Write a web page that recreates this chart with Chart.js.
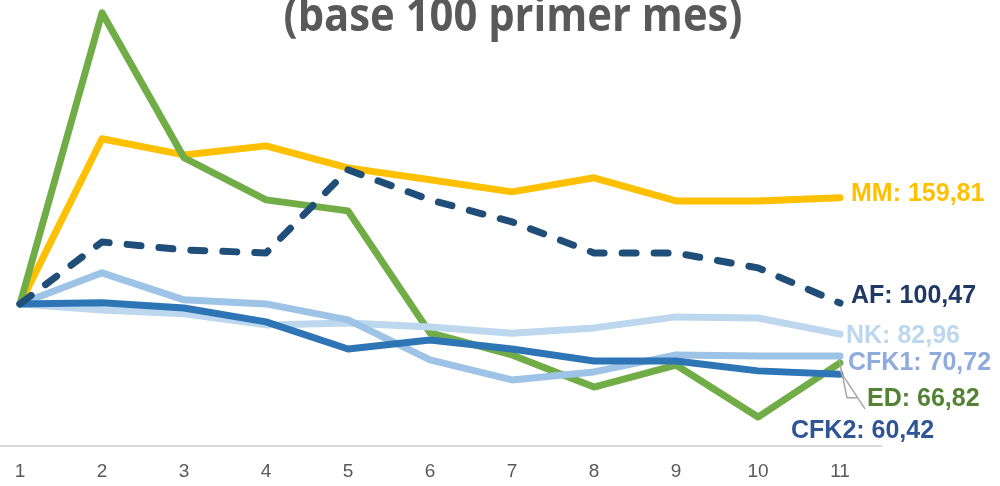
<!DOCTYPE html>
<html>
<head>
<meta charset="utf-8">
<script src="https://cdn.jsdelivr.net/npm/chart.js@4.4.1/dist/chart.umd.min.js"></script>
<style>
  html, body { margin: 0; padding: 0; background: #ffffff; overflow: hidden; width: 1000px; height: 486px; }
  #c { position: absolute; left: -21px; top: 0; }
</style>
</head>
<body>
<canvas id="c" width="1021" height="486"></canvas>
<script>
const categories = ['1', '2', '3', '4', '5', '6', '7', '8', '9', '10', '11'];
const seriesNames = ['MM', 'AF', 'NK', 'CFK1', 'ED', 'CFK2'];
const mm   = [100, 193.0, 183.9, 189.0, 176.6, 169.9, 163.1, 171.0, 158.0, 158.0, 159.81];
const af   = [100, 134.9, 130.4, 128.7, 175.5, 158.6, 146.2, 128.7, 128.7, 120.3, 100.47];
const nk   = [100, 96.6, 94.4, 88.2, 89.3, 87.0, 83.5, 86.5, 92.7, 92.1, 82.96];
const cfk1 = [100, 117.5, 102.3, 100.0, 91.0, 68.5, 57.2, 61.7, 71.3, 70.7, 70.72];
const ed   = [100, 263.9, 182.3, 158.6, 152.4, 83.7, 71.3, 53.2, 65.6, 36.3, 66.82];
const cfk2 = [100, 100.6, 97.7, 89.9, 74.6, 79.7, 74.6, 67.9, 67.9, 62.3, 60.42];
const titleText = '(base 100 primer mes)';

const lineColors  = ['#FFC000', '#1F4E79', '#BDD7EE', '#9DC3E6', '#70AD47', '#2E75B6'];
const labelColors = ['#FFC000', '#1F3864', '#BDD7EE', '#8FAADC', '#548235', '#2F5597'];
const drawOrder   = [5, 0, 3, 2, 4, 1];
// label offsets relative to the last point of each series
const labelDx = [11, 11, 6, 8, 27, -49];
const labelDy = [-4, -7, 2, 7, 36, 57];

const allData = [mm, af, nk, cfk1, ed, cfk2];

const datasets = allData.map((d, i) => ({
  label: seriesNames[i],
  data: d,
  borderColor: lineColors[i],
  backgroundColor: lineColors[i],
  borderWidth: 7,
  pointRadius: 0,
  pointHoverRadius: 0,
  tension: 0,
  fill: false,
  borderJoinStyle: 'round',
  borderCapStyle: 'round',
  borderDash: seriesNames[i] === 'AF' ? [14, 18] : [],
  order: drawOrder[i]
}));

function fmt(v) { return v.toFixed(2).replace('.', ','); }

const overlay = {
  id: 'overlay',
  afterDatasetsDraw(chart) {
    const ctx = chart.ctx;
    ctx.save();
    // leader lines for ED
    const edMeta = chart.getDatasetMeta(4);
    const ep = edMeta.data[edMeta.data.length - 1];
    ctx.strokeStyle = '#A6A6A6';
    ctx.lineWidth = 1.5;
    ctx.beginPath();
    ctx.moveTo(ep.x - 1, ep.y - 4);
    ctx.lineTo(ep.x + 7, ep.y + 35);
    ctx.lineTo(ep.x + 17, ep.y + 35);
    ctx.stroke();
    ctx.beginPath();
    ctx.moveTo(ep.x, ep.y + 8);
    ctx.lineTo(ep.x + 25, ep.y + 46);
    ctx.stroke();

    // end labels
    ctx.font = 'bold 25px "Liberation Sans", Arial, sans-serif';
    ctx.textBaseline = 'middle';
    ctx.textAlign = 'left';
    allData.forEach((d, i) => {
      const meta = chart.getDatasetMeta(i);
      const p = meta.data[meta.data.length - 1];
      ctx.fillStyle = labelColors[i];
      ctx.fillText(seriesNames[i] + ': ' + fmt(d[d.length - 1]), p.x + labelDx[i], p.y + labelDy[i]);
    });

    // title (top part cropped), condensed like Calibri
    ctx.fillStyle = '#595959';
    ctx.textAlign = 'center';
    ctx.textBaseline = 'alphabetic';
    ctx.font = 'bold 47px "Open Sans", sans-serif';
    const w = ctx.measureText(titleText).width;
    const sx = 459 / w;
    ctx.translate(513 + 21, 31);
    ctx.scale(sx, 1);
    ctx.fillText(titleText, 0, 0);
    ctx.restore();
  }
};

new Chart(document.getElementById('c'), {
  type: 'line',
  data: { labels: categories, datasets: datasets },
  options: {
    responsive: false,
    animation: false,
    devicePixelRatio: 1,
    layout: { padding: { left: 0, right: 119, top: 2, bottom: 0 } },
    plugins: { legend: { display: false }, tooltip: { enabled: false }, title: { display: false } },
    scales: {
      x: {
        type: 'category',
        offset: true,
        grid: { display: false, drawTicks: false },
        border: { display: true, color: '#D9D9D9', width: 2 },
        ticks: {
          color: '#595959',
          font: { family: '"Liberation Sans", Arial, sans-serif', size: 19 },
          padding: 14,
          maxRotation: 0,
          autoSkip: false
        },
        afterFit: (s) => { s.height = 40; }
      },
      y: {
        display: false,
        min: 20,
        max: 270
      }
    }
  },
  plugins: [overlay]
});
</script>
</body>
</html>
